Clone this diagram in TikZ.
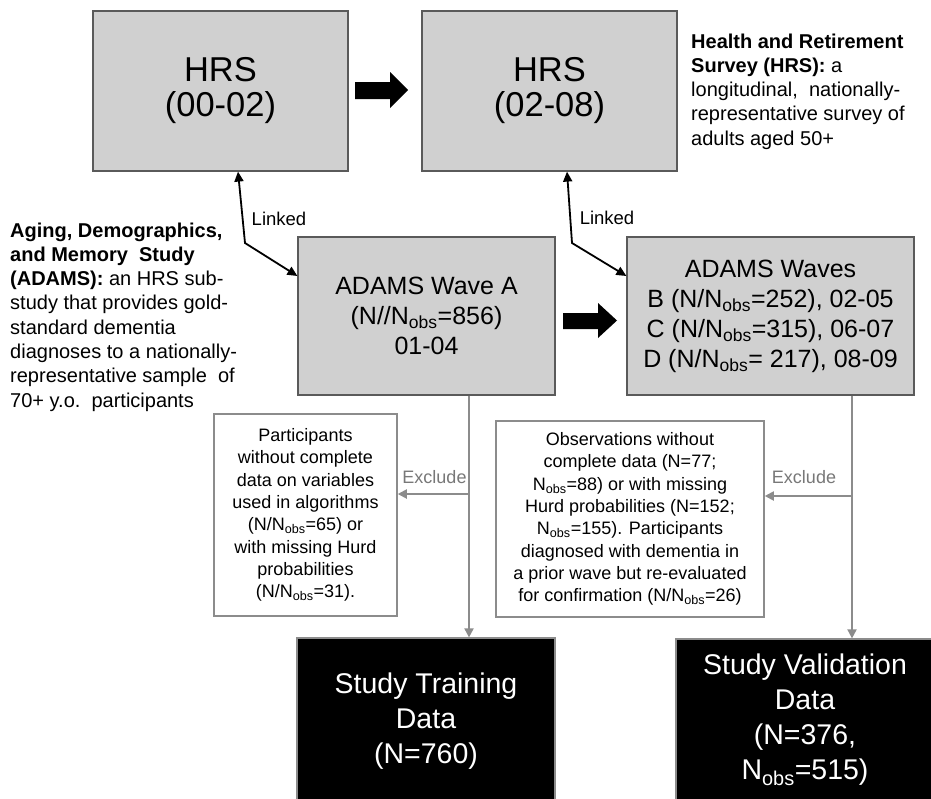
\documentclass[tikz,border=0pt]{standalone}
\usepackage{fontspec}
\setmainfont{Liberation Sans}
\usetikzlibrary{arrows.meta}
\definecolor{boxgray}{RGB}{208,208,208}
\definecolor{edgegray}{RGB}{90,90,90}
\definecolor{linegray}{RGB}{140,140,140}
\definecolor{textgray}{RGB}{120,120,120}
\begin{document}
\begin{tikzpicture}[x=1pt,y=-1pt,
  graybox/.style={draw=edgegray, line width=1.2pt, fill=boxgray, inner sep=0pt, align=center},
  exclbox/.style={draw=linegray, line width=1.5pt, fill=white, inner sep=0pt, align=center, font=\fontsize{18}{22.3}\selectfont},
  blackbox/.style={draw=linegray, line width=1.2pt, fill=black, text=white, inner sep=0pt, align=center, font=\fontsize{28.5}{35}\selectfont},
  note/.style={inner sep=0pt, align=left, anchor=north west, font=\fontsize{20}{24.3}\selectfont},
  linkarrow/.style={draw=black, line width=1.8pt, {Triangle[length=10pt,width=9pt]}-{Triangle[length=10pt,width=9pt]}},
  grayarrow/.style={draw=linegray, line width=1.8pt, -{Triangle[length=9pt,width=9pt]}},
  linklabel/.style={inner sep=0pt, anchor=base, font=\fontsize{18.5}{20}\selectfont},
  exlabel/.style={text=textgray, inner sep=0pt, anchor=base, font=\fontsize{18}{20}\selectfont},
  blockarrow/.style={fill=black}
]
\useasboundingbox (0,0) rectangle (931,798);
\fill[white] (0,0) rectangle (931,798);
\begin{scope}
\clip (0,0) rectangle (931,798);

% top HRS boxes
\node[graybox, minimum width=255pt, minimum height=160pt, font=\fontsize{34.5}{35}\selectfont] (hrs1) at (220.5,91) {HRS\\(00-02)};
\node[graybox, minimum width=255pt, minimum height=160pt, font=\fontsize{34.5}{35}\selectfont] (hrs2) at (549.5,91) {HRS\\(02-08)};

% ADAMS boxes
\node[graybox, minimum width=257pt, minimum height=158pt, font=\fontsize{25}{30}\selectfont] (waveA) at (426.5,316) {ADAMS Wave A\\(N//N\textsubscript{obs}=856)\\01-04};
\node[graybox, minimum width=287pt, minimum height=158pt, font=\fontsize{25}{30}\selectfont] (waves) at (770.5,316) {ADAMS Waves\\B (N/N\textsubscript{obs}=252), 02-05\\C (N/N\textsubscript{obs}=315), 06-07\\D (N/N\textsubscript{obs}= 217), 08-09};

% exclusion boxes
\node[exclbox, minimum width=183pt, minimum height=202pt] (exclL) at (305.5,515) {Participants\\without complete\\data on variables\\used in algorithms\\(N/N\textsubscript{obs}=65) or\\with missing Hurd\\probabilities\\(N/N\textsubscript{obs}=31).};
\node[exclbox, minimum width=268pt, minimum height=196pt] (exclM) at (630,519) {Observations without\\complete data (N=77;\\N\textsubscript{obs}=88) or with missing\\Hurd probabilities (N=152;\\N\textsubscript{obs}=155). Participants\\diagnosed with dementia in\\a prior wave but re-evaluated\\for confirmation (N/N\textsubscript{obs}=26)};

% result boxes
\node[blackbox, minimum width=258pt, minimum height=166pt] (train) at (426,721) {Study Training\\Data\\(N=760)};
\node[blackbox, minimum width=258pt, minimum height=162pt] (valid) at (805,720) {Study Validation\\Data\\(N=376,\\N\textsubscript{obs}=515)};

% side notes
\node[note] (noteHRS) at (691,33.4) {\textbf{Health and Retirement}\\\textbf{Survey (HRS):} a\\longitudinal,\ \ nationally-\\representative survey of\\adults aged 50+};
\node[note] (noteADAMS) at (10,222.4) {\textbf{Aging, Demographics,}\\\textbf{and Memory\ \ Study}\\\textbf{(ADAMS):} an HRS sub-\\study that provides gold-\\standard dementia\\diagnoses to a nationally-\\representative sample\ \ of\\70+ y.o.\ \ participants};

% block arrows
\fill[blockarrow] (355,82) -- (390,82) -- (390,72) -- (408,90) -- (390,108) -- (390,99) -- (355,99) -- cycle;
\fill[blockarrow] (563,313) -- (598,313) -- (598,303) -- (617,320.5) -- (598,338) -- (598,329) -- (563,329) -- cycle;

% linked arrows
\coordinate (bendL) at (245,243);
\coordinate (bendR) at (572,243);
\draw[linkarrow] ([xshift=17.5pt]hrs1.south) -- (bendL) -- ([yshift=40pt]waveA.west);
\draw[linkarrow] ([xshift=17.5pt]hrs2.south) -- (bendR) -- ([yshift=40pt]waves.west);
\node[linklabel] (lkL) at (279,225) {Linked};
\node[linklabel] (lkR) at (607,224) {Linked};

% gray flow
\coordinate (jA) at (469,494);
\coordinate (jB) at (852,496);
\draw[grayarrow] (waveA.south -| jA) -- (train.north -| jA);
\draw[grayarrow] (jA) -- (exclL.east |- jA);
\draw[grayarrow] (waves.south -| jB) -- (valid.north -| jB);
\draw[grayarrow] (jB) -- (exclM.east |- jB);
\node[exlabel] (exL) at (434.5,483) {Exclude};
\node[exlabel] (exR) at (804,483) {Exclude};
\end{scope}
\end{tikzpicture}
\end{document}
